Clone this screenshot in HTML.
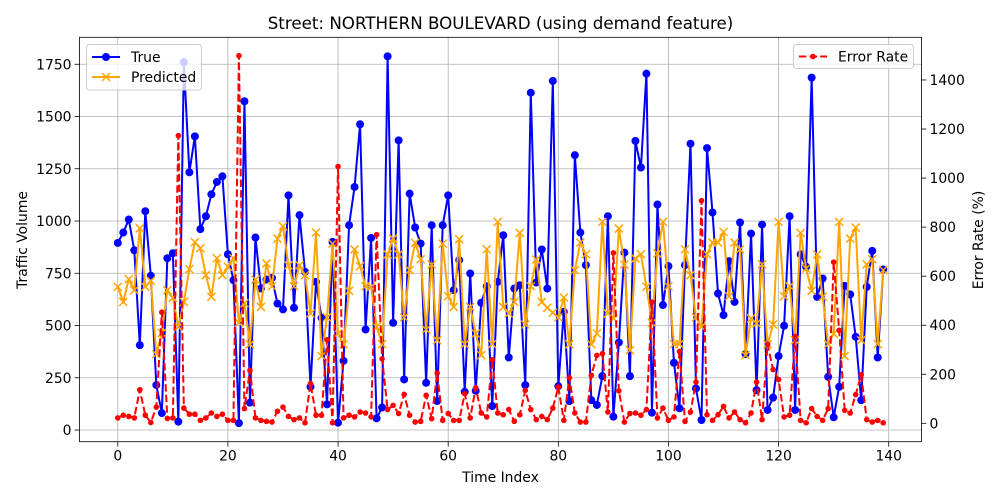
<!DOCTYPE html>
<html><head><meta charset="utf-8"><style>
html,body{margin:0;padding:0;background:#fff;}
svg{display:block;font-family:"DejaVu Sans","Liberation Sans",sans-serif;}
</style></head><body>
<svg id="chart" width="1000" height="500" viewBox="0 0 1000 500" xmlns="http://www.w3.org/2000/svg"></svg>
<script>
const trueVals=[895,945,1007,860,406,1047,738,215,81,822,846,40,1760,1233,1405,961,1023,1128,1187,1214,841,717,33,1573,131,921,677,720,728,605,577,1123,585,1028,757,207,709,537,123,900,35,331,980,1163,1463,481,919,56,108,1788,513,1386,242,1131,969,892,226,980,139,980,1123,669,813,183,749,188,609,688,115,709,932,347,677,693,215,1614,706,864,677,1670,210,566,139,1315,945,789,143,120,258,1023,64,419,849,258,1383,1256,1705,83,1079,598,784,322,104,789,1370,199,48,1349,1041,653,550,808,613,993,363,940,191,983,96,155,354,499,1023,96,841,781,1686,637,725,255,61,207,690,649,446,143,685,857,347,768];
const predVals=[685,613,722,669,965,685,714,363,464,669,632,494,613,770,899,870,741,637,822,741,781,822,513,607,410,720,589,797,688,915,975,788,688,788,741,558,945,354,539,892,462,410,666,864,784,688,685,494,411,840,916,840,539,765,896,817,481,792,430,892,640,589,913,411,589,462,358,865,411,996,589,558,613,943,505,688,816,613,585,561,539,634,410,765,897,841,410,462,996,558,534,964,792,382,821,841,685,513,845,996,688,411,411,865,741,539,494,841,897,897,948,640,897,865,358,534,510,793,410,505,996,640,688,430,943,773,666,840,637,411,461,996,354,916,969,430,793,817,411,765];
const errVals=[22,33,28,22,137,33,3,66,453,20,22,1173,62,37,37,12,22,42,28,37,12,12,1499,60,216,22,12,8,5,49,66,28,15,22,2,162,33,33,341,2,1047,22,33,26,46,42,26,769,263,56,73,40,118,33,5,8,114,19,205,12,40,12,12,121,22,145,42,26,259,42,35,56,8,35,134,56,15,28,15,62,148,12,186,42,5,5,196,277,284,46,695,132,5,40,42,33,56,494,22,62,12,26,293,8,46,168,908,35,12,35,69,22,46,15,2,42,168,15,322,219,178,26,33,354,12,2,60,28,12,60,657,379,53,42,117,198,15,5,12,2];
const xTicks=[0,20,40,60,80,100,120,140];
const yTicks=[0,250,500,750,1000,1250,1500,1750];
const y2Ticks=[0,200,400,600,800,1000,1200,1400];

const L=79.5,R=921.5,T=37.3,B=441.7;
const xMin=-6.95,xMax=145.95,yMin=-55.8,yMax=1879,y2Min=-75,y2Max=1574;
const sx=v=>L+(v-xMin)/(xMax-xMin)*(R-L);
const sy=v=>B-(v-yMin)/(yMax-yMin)*(B-T);
const sy2=v=>B-(v-y2Min)/(y2Max-y2Min)*(B-T);
const NS="http://www.w3.org/2000/svg";
const svg=document.getElementById('chart');
function mk(tag,attrs,parent){const e=document.createElementNS(NS,tag);for(const k in attrs)e.setAttribute(k,attrs[k]);(parent||svg).appendChild(e);return e;}
function txt(s,attrs,parent){const e=mk('text',attrs,parent);e.textContent=s;return e;}

// grid
const grid=mk('g',{});


xTicks.forEach(t=>{mk('line',{x1:sx(t),x2:sx(t),y1:T,y2:B,stroke:'#b0b0b0','stroke-width':0.8},grid);});
yTicks.forEach(t=>{mk('line',{x1:L,x2:R,y1:sy(t),y2:sy(t),stroke:'#b0b0b0','stroke-width':0.8},grid);});

// series
const n=trueVals.length;
function pts(arr,f){return arr.map((v,i)=>sx(i).toFixed(2)+','+f(v).toFixed(2)).join(' ');}
const gT=mk('g',{});


mk('polyline',{points:pts(trueVals,sy),fill:'none',stroke:'#0000ff','stroke-width':2,'stroke-linejoin':'round'},gT);
trueVals.forEach((v,i)=>{const c=mk('circle',{cx:sx(i),cy:sy(v),r:4,fill:'#0000ff'},gT);

});

const gP=mk('g',{});


mk('polyline',{points:pts(predVals,sy),fill:'none',stroke:'#ffa500','stroke-width':2,'stroke-linejoin':'round'},gP);
predVals.forEach((v,i)=>{const x=sx(i),y=sy(v),d=4;
const m=mk('path',{d:`M${x-d},${y-d}L${x+d},${y+d}M${x-d},${y+d}L${x+d},${y-d}`,stroke:'#ffa500','stroke-width':1.5,fill:'none'},gP);

});

// axes frame & ticks
const ax=mk('g',{});


xTicks.forEach(t=>{mk('line',{x1:sx(t),x2:sx(t),y1:B,y2:B+4.9,stroke:'#000','stroke-width':0.8},ax);
const l=txt(String(t),{x:sx(t),y:B+19,'text-anchor':'middle','font-size':13.9,fill:'#000'},ax);

});
yTicks.forEach(t=>{mk('line',{x1:L,x2:L-4.9,y1:sy(t),y2:sy(t),stroke:'#000','stroke-width':0.8},ax);
const l=txt(String(t),{x:L-8,y:sy(t)+5,'text-anchor':'end','font-size':13.9,fill:'#000'},ax);

});
y2Ticks.forEach(t=>{mk('line',{x1:R,x2:R+4.9,y1:sy2(t),y2:sy2(t),stroke:'#000','stroke-width':0.8},ax);
const l=txt(String(t),{x:R+8,y:sy2(t)+5,'text-anchor':'start','font-size':13.9,fill:'#000'},ax);

});

// left legend
const lg=mk('g',{});


mk('rect',{x:86.5,y:44.5,width:115,height:45.5,rx:3,fill:'#fff','fill-opacity':0.8,stroke:'#cccccc','stroke-width':1},lg);
mk('line',{x1:92,x2:120,y1:57,y2:57,stroke:'#0000ff','stroke-width':2},lg);
mk('circle',{cx:106,cy:57,r:4,fill:'#0000ff'},lg);
const lt1=txt('True',{x:131,y:62,'font-size':13.9,fill:'#000'},lg);


mk('line',{x1:92,x2:120,y1:77,y2:77,stroke:'#ffa500','stroke-width':2},lg);
mk('path',{d:'M102,73L110,81M102,81L110,73',stroke:'#ffa500','stroke-width':1.5},lg);
const lt2=txt('Predicted',{x:131,y:82,'font-size':13.9,fill:'#000'},lg);



// error series (twin axis, on top)
const gE=mk('g',{});


mk('polyline',{points:pts(errVals,sy2),fill:'none',stroke:'#ff0000','stroke-width':2,'stroke-dasharray':'7.4,3.2'},gE);
errVals.forEach((v,i)=>{const c=mk('circle',{cx:sx(i),cy:sy2(v),r:2.8,fill:'#ff0000'},gE);

});

mk('rect',{x:L,y:T,width:R-L,height:B-T,fill:'none',stroke:'#000','stroke-width':0.8},ax);

// right legend
const rg=mk('g',{});


mk('rect',{x:793.5,y:44.5,width:120,height:24,rx:3,fill:'#fff','fill-opacity':0.8,stroke:'#cccccc','stroke-width':1},rg);
mk('line',{x1:799,x2:827,y1:56.5,y2:56.5,stroke:'#ff0000','stroke-width':2,'stroke-dasharray':'7.4,3.2'},rg);
mk('circle',{cx:813,cy:56.5,r:2.8,fill:'#ff0000'},rg);
const lt3=txt('Error Rate',{x:838,y:61.5,'font-size':13.9,fill:'#000'},rg);



// titles
const ti=txt('Street: NORTHERN BOULEVARD (using demand feature)',{x:500.5,y:29,'text-anchor':'middle','font-size':16.7,fill:'#000'});


const xt=txt('Time Index',{x:500.5,y:482,'text-anchor':'middle','font-size':13.9,fill:'#000'});


const yt=txt('Traffic Volume',{x:0,y:0,'text-anchor':'middle','font-size':13.9,fill:'#000',transform:'translate(27,240) rotate(-90)'});


const y2t=txt('Error Rate (%)',{x:0,y:0,'text-anchor':'middle','font-size':13.9,fill:'#000',transform:'translate(983,240) rotate(-90)'});


</script>
</body></html>
